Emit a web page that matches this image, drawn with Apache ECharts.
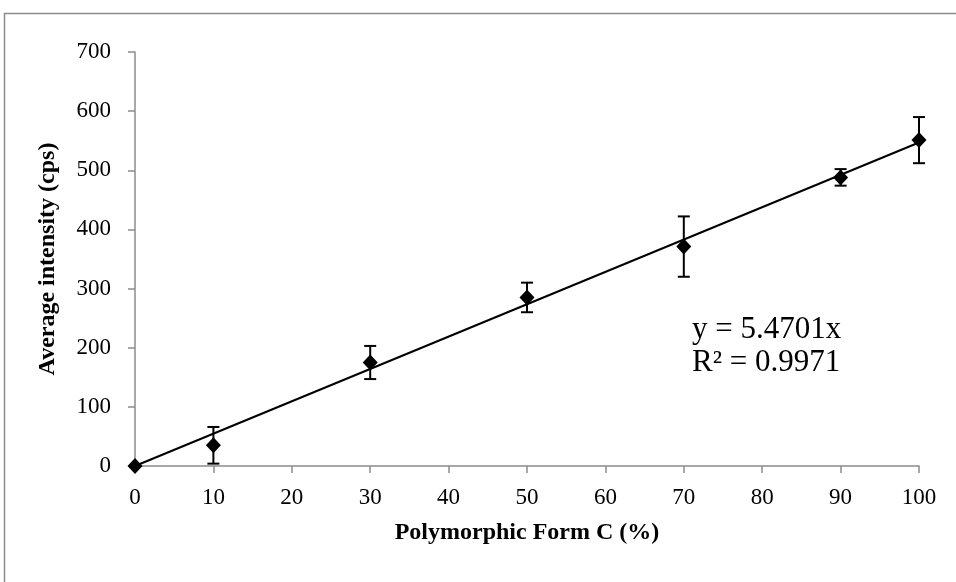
<!DOCTYPE html>
<html>
<head>
<meta charset="utf-8">
<script src="https://cdn.jsdelivr.net/npm/echarts@6/dist/echarts.min.js"></script>
<style>
html,body{margin:0;padding:0;background:#fff;}
#chart{width:956px;height:582px;}
</style>
</head>
<body>
<div id="chart"></div>
<script>
// Data
const formC = [0, 10, 30, 50, 70, 90, 100];
const intensity = [0, 35, 175, 285, 371, 488, 551];
const errorBar = [0, 31, 28, 25, 51, 14, 39];
const slope = 5.4701;
const r2 = 0.9971;
const xTicks = [0, 10, 20, 30, 40, 50, 60, 70, 80, 90, 100];
const yTicks = [0, 100, 200, 300, 400, 500, 600, 700];

const font = '"Liberation Serif", "Times New Roman", serif';
const chart = echarts.init(document.getElementById('chart'));

const points = formC.map((x, i) => [x, intensity[i]]);
const errData = formC.map((x, i) => [x, intensity[i] - errorBar[i], intensity[i] + errorBar[i]]);
const trend = [[0, 0], [100, slope * 100]];

chart.setOption({
  animation: false,
  backgroundColor: '#fff',
  graphic: [{
    type: 'rect',
    shape: {x: 4.5, y: 13.5, width: 1000, height: 1000},
    style: {fill: 'none', stroke: '#8c8c8c', lineWidth: 1.5},
    silent: true
  }, {
    type: 'text',
    x: 692, y: 313,
    style: {
      text: 'y = ' + slope.toFixed(4) + 'x\nR² = ' + r2.toFixed(4),
      font: '31px ' + font, fill: '#000', lineHeight: 33
    }
  }],
  grid: {left: 135, right: 37, top: 52, bottom: 116, containLabel: false},
  xAxis: {
    type: 'value', min: 0, max: 100, interval: 10,
    name: 'Polymorphic Form C (%)', nameLocation: 'middle', nameGap: 55,
    nameTextStyle: {fontFamily: font, fontSize: 24, fontWeight: 'bold', color: '#000'},
    axisLine: {lineStyle: {color: '#8c8c8c', width: 1.5}},
    axisTick: {show: true, length: 7, lineStyle: {color: '#8c8c8c', width: 1.5}},
    axisLabel: {fontFamily: font, fontSize: 23, color: '#000', margin: 20,
      formatter: v => xTicks.includes(v) ? String(v) : ''},
    splitLine: {show: false}
  },
  yAxis: {
    type: 'value', min: 0, max: 700, interval: 100,
    name: 'Average intensity (cps)', nameLocation: 'middle', nameGap: 75,
    nameTextStyle: {fontFamily: font, fontSize: 24, fontWeight: 'bold', color: '#000'},
    axisLine: {show: true, lineStyle: {color: '#8c8c8c', width: 1.5}},
    axisTick: {show: true, length: 7, lineStyle: {color: '#8c8c8c', width: 1.5}},
    axisLabel: {fontFamily: font, fontSize: 23, color: '#000', margin: 24,
      formatter: v => yTicks.includes(v) ? String(v) : ''},
    splitLine: {show: false}
  },
  series: [{
    type: 'line',
    data: trend,
    showSymbol: false,
    lineStyle: {color: '#000', width: 2},
    z: 2
  }, {
    type: 'custom',
    data: errData,
    renderItem: function (params, api) {
      const x = api.value(0);
      const lo = api.coord([x, api.value(1)]);
      const hi = api.coord([x, api.value(2)]);
      const w = 6;
      const style = {stroke: '#000', lineWidth: 2, fill: 'none'};
      return {
        type: 'group',
        children: [
          {type: 'line', shape: {x1: lo[0], y1: lo[1], x2: hi[0], y2: hi[1]}, style},
          {type: 'line', shape: {x1: lo[0] - w, y1: lo[1], x2: lo[0] + w, y2: lo[1]}, style},
          {type: 'line', shape: {x1: hi[0] - w, y1: hi[1], x2: hi[0] + w, y2: hi[1]}, style}
        ]
      };
    },
    z: 3
  }, {
    type: 'scatter',
    data: points,
    symbol: 'diamond',
    symbolSize: [15, 16],
    itemStyle: {color: '#000', opacity: 1},
    z: 4
  }]
});
</script>
</body>
</html>
